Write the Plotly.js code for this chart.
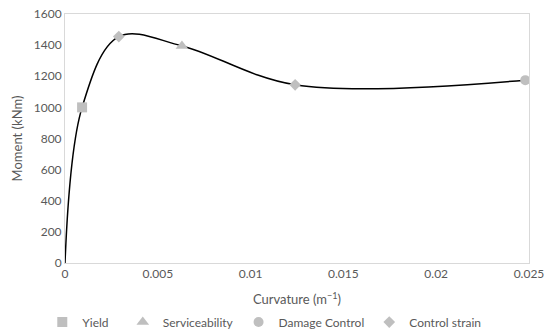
<!DOCTYPE html>
<html>
<head>
<meta charset="utf-8">
<script src="https://cdn.plot.ly/plotly-3.0.1.min.js"></script>
<style>html,body{margin:0;padding:0;background:#fff;}#chart{width:550px;height:335px;}</style>
</head>
<body>
<div id="chart"></div>
<script>
// Moment-curvature curve
const curveX = [0, 0.00092, 0.0029, 0.0063, 0.0124, 0.0248];
const curveY = [0, 1000, 1455, 1395, 1145, 1175];
// Performance points
const yieldX = [0.00092];
const yieldY = [1000];
const serviceX = [0.0063];
const serviceY = [1395];
const damageX = [0.0248];
const damageY = [1175];
const strainX = [0.0029, 0.0124];
const strainY = [1455, 1145];
const seriesNames = ['Yield', 'Serviceability', 'Damage Control', 'Control strain'];

const markerColor = '#BFBFBF';
const fontFam = 'Lato, Carlito, Calibri, sans-serif';
const nb = n => '\u00A0'.repeat(n);

const traces = [
  {x: curveX, y: curveY, mode: 'lines', type: 'scatter', line: {color: '#000', width: 1.5, shape: 'spline', smoothing: 1}, showlegend: false, hoverinfo: 'skip'},
  {x: yieldX, y: yieldY, mode: 'markers', type: 'scatter', name: seriesNames[0] + nb(3), marker: {symbol: 'square', size: 10, color: markerColor}},
  {x: serviceX, y: serviceY, mode: 'markers', type: 'scatter', name: seriesNames[1], marker: {symbol: 'triangle-up', size: 11, color: markerColor}},
  {x: damageX, y: damageY, mode: 'markers', type: 'scatter', name: seriesNames[2], marker: {symbol: 'circle', size: 10, color: markerColor}},
  {x: strainX, y: strainY, mode: 'markers', type: 'scatter', name: seriesNames[3], marker: {symbol: 'diamond', size: 9, color: markerColor}}
];

const layout = {
  width: 550, height: 335,
  margin: {l: 65, r: 21, t: 14, b: 72, autoexpand: false},
  paper_bgcolor: '#fff', plot_bgcolor: '#fff',
  font: {family: fontFam, size: 12, color: '#595959'},
  showlegend: true,
  legend: {orientation: 'h', x: 0.4295, xanchor: 'center', yref: 'container', y: 0.082, yanchor: 'top', font: {size: 12, color: '#595959'}, itemwidth: 30},
  xaxis: {
    range: [0, 0.025], dtick: 0.005, tick0: 0,
    showgrid: false, zeroline: false,
    showline: true, linecolor: '#D9D9D9', linewidth: 1, mirror: true,
    ticks: '', tickfont: {size: 12, color: '#595959'},
    title: {text: 'Curvature (m<sup>−1</sup>)', font: {size: 13, color: '#595959'}, standoff: 14}
  },
  yaxis: {
    range: [0, 1600], dtick: 200, tick0: 0,
    showgrid: false, zeroline: false,
    showline: true, linecolor: '#D9D9D9', linewidth: 1, mirror: true,
    ticks: '', tickfont: {size: 12, color: '#595959'},
    title: {text: 'Moment (kNm)', font: {size: 13, color: '#595959'}, standoff: 8}
  }
};

Plotly.newPlot('chart', traces, layout, {displayModeBar: false, staticPlot: true});
</script>
</body>
</html>
